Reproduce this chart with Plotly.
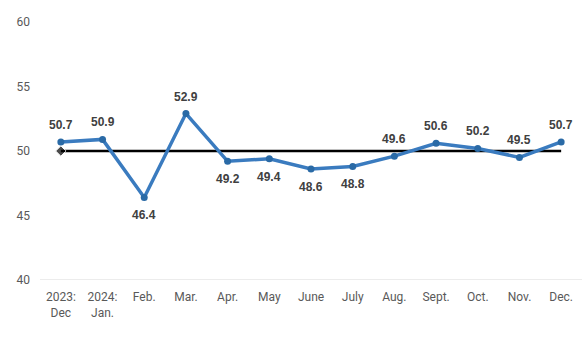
import plotly.graph_objects as go

categories = ["2023:<br>Dec", "2024:<br>Jan.", "Feb.", "Mar.", "Apr.", "May", "June",
              "July", "Aug.", "Sept.", "Oct.", "Nov.", "Dec."]
pmi = [50.7, 50.9, 46.4, 52.9, 49.2, 49.4, 48.6, 48.8, 49.6, 50.6, 50.2, 49.5, 50.7]
threshold = [50] * len(categories)
label_above = [True, True, False, True, False, False, False, False, True, True, True, True, True]

x = list(range(len(categories)))

fig = go.Figure()
fig.add_trace(go.Scatter(
    x=x, y=threshold, mode="lines+markers",
    line=dict(color="black", width=2.5),
    marker=dict(symbol="diamond", size=[8] + [0] * (len(x) - 1), color="black"),
    hoverinfo="skip", showlegend=False,
))
fig.add_trace(go.Scatter(
    x=x, y=pmi, mode="lines+markers",
    line=dict(color="#3a7bbf", width=3.5),
    marker=dict(size=7, color="#2a6aa6"),
    showlegend=False,
))

annotations = []
for xi, v, up in zip(x, pmi, label_above):
    annotations.append(dict(
        x=xi, y=v, xref="x", yref="y", text=f"{v:.1f}", showarrow=False,
        yshift=17 if up else -18,
        font=dict(family="Liberation Sans", size=12, color="#404040", weight="bold"),
    ))

fig.update_layout(
    width=584, height=337,
    margin=dict(l=40, r=2, t=22, b=57),
    paper_bgcolor="white", plot_bgcolor="white",
    font=dict(family="Roboto", size=12, color="#595959"),
    xaxis=dict(
        range=[-0.5, len(x) - 0.5], tickmode="array", tickvals=x, ticktext=categories,
        showgrid=False, zeroline=False, showline=False, ticks="", ticklabelstandoff=8,
        tickfont=dict(size=12, color="#595959"),
    ),
    yaxis=dict(
        range=[40, 60], tickvals=[40, 45, 50, 55, 60], showgrid=False, zeroline=False,
        showline=False, ticks="", ticklabelstandoff=9,
        tickfont=dict(size=12, color="#595959"),
    ),
    annotations=annotations,
    shapes=[dict(type="line", xref="paper", yref="y", x0=0, x1=1, y0=40, y1=40,
                 line=dict(color="#d9d9d9", width=1), layer="below")],
)

fig.write_html("out.html")
